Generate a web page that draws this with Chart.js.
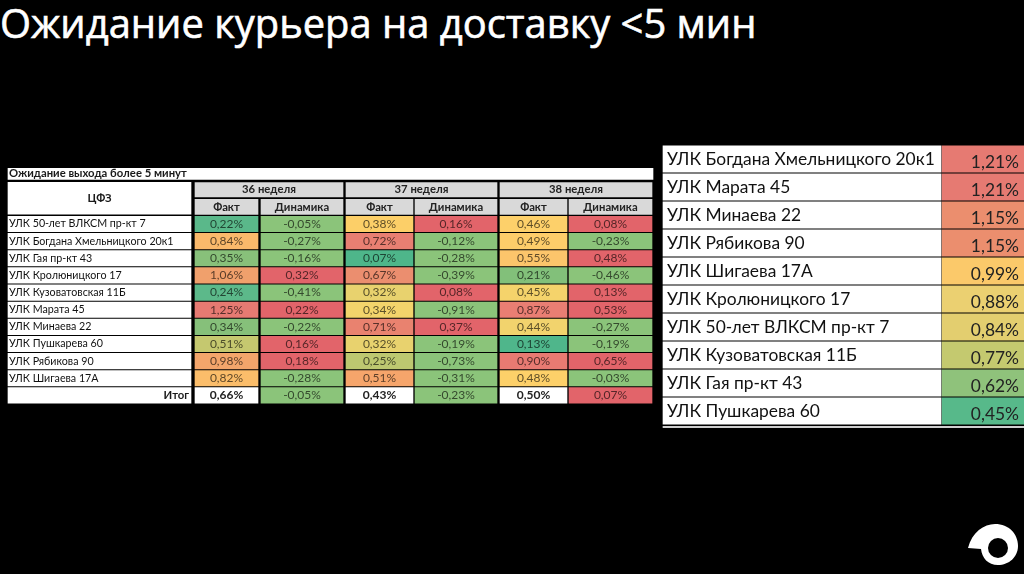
<!DOCTYPE html>
<html lang="ru">
<head>
<meta charset="utf-8">
<title>Ожидание курьера на доставку</title>
<script src="https://cdn.jsdelivr.net/npm/chart.js@4"></script>
<style>
    html, body { margin: 0; width: 1024px; height: 574px; overflow: hidden; background: #000; }
    h1 { position: absolute; left: 0; top: -5px; margin: 0; color: #fff; font: 400 39.9px "Open Sans", sans-serif; -webkit-text-stroke: 0.6px #fff; white-space: nowrap; }
    canvas { position: absolute; display: block; }
    #logo { position: absolute; left: 0; top: 0; }
</style>
</head>
<body>
<h1>Ожидание курьера на доставку &lt;5 мин</h1>
<canvas id="weeks-table" width="660" height="240" style="left:0;top:164px"></canvas>
<canvas id="rank-table" width="364" height="294" style="left:660px;top:145px"></canvas>
<svg id="logo" width="1024" height="574">
    <path fill="#fff" d="M968 548C972 532 984 524 995 524C1009 524 1018 534 1018 546C1018 557 1009 565 998 565C988 565 982 558 981 549Z"/>
    <circle cx="998" cy="548" r="10" fill="#000"/>
</svg>
<script>
// Данные таблицы по неделям (последнее значение - итог)
const tableTitle = 'Ожидание выхода более 5 минут';
const stores = ['УЛК 50-лет ВЛКСМ пр-кт 7', 'УЛК Богдана Хмельницкого 20к1', 'УЛК Гая пр-кт 43', 'УЛК Кролюницкого 17', 'УЛК Кузоватовская 11Б', 'УЛК Марата 45', 'УЛК Минаева 22', 'УЛК Пушкарева 60', 'УЛК Рябикова 90', 'УЛК Шигаева 17А'];
const weeks = ['36 неделя', '37 неделя', '38 неделя'];
const fact36 = [0.22, 0.84, 0.35, 1.06, 0.24, 1.25, 0.34, 0.51, 0.98, 0.82, 0.66];
const dyn36 = [-0.05, -0.27, -0.16, 0.32, -0.41, 0.22, -0.22, 0.16, 0.18, -0.28, -0.05];
const fact37 = [0.38, 0.72, 0.07, 0.67, 0.32, 0.34, 0.71, 0.32, 0.25, 0.51, 0.43];
const dyn37 = [0.16, -0.12, -0.28, -0.39, 0.08, -0.91, 0.37, -0.19, -0.73, -0.31, -0.23];
const fact38 = [0.46, 0.49, 0.55, 0.21, 0.45, 0.87, 0.44, 0.13, 0.90, 0.48, 0.50];
const dyn38 = [0.08, -0.23, 0.48, -0.46, 0.13, 0.53, -0.27, -0.19, 0.65, -0.03, 0.07];

// Рейтинг справа
const rankStores = ['УЛК Богдана Хмельницкого 20к1', 'УЛК Марата 45', 'УЛК Минаева 22', 'УЛК Рябикова 90', 'УЛК Шигаева 17А', 'УЛК Кролюницкого 17', 'УЛК 50-лет ВЛКСМ пр-кт 7', 'УЛК Кузоватовская 11Б', 'УЛК Гая пр-кт 43', 'УЛК Пушкарева 60'];
const rankValues = [1.21, 1.21, 1.15, 1.15, 0.99, 0.88, 0.84, 0.77, 0.62, 0.45];

// Цвета условного форматирования
const fact36Colors = ['#5ab88a', '#fab96b', '#88c07a', '#f0a06c', '#5cb98a', '#e67a72', '#86c07a', '#c5c86f', '#f3a56b', '#fbbd6a', '#ffffff'];
const fact37Colors = ['#fccf68', '#e87f72', '#4eb68a', '#eb8e6f', '#e8d26e', '#f3d46b', '#e9826f', '#e8d26e', '#bdc870', '#f6a56b', '#ffffff'];
const fact38Colors = ['#fdd06a', '#fdcd6a', '#fcc56b', '#82c07a', '#f5d36b', '#e97e73', '#f2d36d', '#4fb68b', '#e87a72', '#fdd069', '#ffffff'];
const rankColors = ['#e67a72', '#e67a72', '#eb8e6e', '#eb8e6e', '#fbc96a', '#ebd071', '#e3ce6f', '#c4c96f', '#8fc27b', '#57b98a'];
const dynUp = '#e2646a';
const dynDown = '#8bc47a';

const FONT = 'Lato, "Noto Sans", sans-serif';

const percent = v => v.toFixed(2).replace('.', ',') + '%';

// Тёмный оттенок цвета ячейки для текста
function darken(hex) {
    if (hex === '#ffffff') return '#222';
    const n = parseInt(hex.slice(1), 16);
    const c = [n >> 16, (n >> 8) & 255, n & 255].map(v => Math.round(v * 0.38));
    return `rgb(${c.join(',')})`;
}

// Подписи ячеек: текст берётся из точки, положение - из самого бара
const cellText = {
    id: 'cellText',
    afterDatasetsDraw(chart) {
        const ctx = chart.ctx;
        chart.data.datasets.forEach((ds, i) => {
            chart.getDatasetMeta(i).data.forEach((bar, j) => {
                const point = ds.data[j];
                if (!point.text) return;
                const left = Math.min(bar.x, bar.base);
                const right = Math.max(bar.x, bar.base);
                const align = point.align || 'center';
                const pad = point.pad || 0;
                ctx.save();
                ctx.font = point.font;
                ctx.fillStyle = point.color;
                ctx.textAlign = align;
                ctx.textBaseline = 'middle';
                const x = align === 'left' ? left + pad : align === 'right' ? right - pad : (left + right) / 2;
                ctx.fillText(point.text, x, bar.y + (point.dy || 0));
                ctx.restore();
            });
        });
    }
};

function tableChart(id, xMin, xMax, yMax, datasets) {
    return new Chart(document.getElementById(id), {
        type: 'bar',
        data: { datasets },
        plugins: [cellText],
        options: {
            indexAxis: 'y',
            responsive: false,
            animation: false,
            events: [],
            layout: { padding: 0 },
            plugins: { legend: { display: false }, tooltip: { enabled: false } },
            datasets: { bar: { grouped: false } },
            scales: {
                x: { type: 'linear', display: false, min: xMin, max: xMax },
                y: { type: 'linear', display: false, offset: false, reverse: true, min: -0.5, max: yMax }
            }
        }
    });
}

// --- Левая таблица ---
const factEdges = [[195, 258], [346, 413], [500, 567]];
const dynEdges = [[261, 343], [415, 497], [569, 652]];
const weekEdges = [[195, 343], [346, 497], [500, 652]];
const labelEdge = [8, 191];
const FIRST_ROW = 3;

const headFont = `bold 11.3px ${FONT}`;
const cellFont = `12px ${FONT}`;

const labelPoints = stores.map((name, i) => ({
    x: labelEdge, y: FIRST_ROW + i, text: name, align: 'left', pad: 1, font: `10.7px ${FONT}`, color: '#111'
}));
labelPoints.push({ x: labelEdge, y: FIRST_ROW + stores.length, text: 'Итог', align: 'right', pad: 2, font: headFont, color: '#1a1a1a' });

const columnPoints = (values, edges, colors) => values.map((v, i) => ({
    x: edges, y: FIRST_ROW + i, text: percent(v), font: i === values.length - 1 && colors ? `bold 12px ${FONT}` : cellFont,
    color: darken(colors ? colors[i] : (v > 0 ? dynUp : dynDown))
}));

const dataCols = [
    [fact36, factEdges[0], fact36Colors], [dyn36, dynEdges[0], null],
    [fact37, factEdges[1], fact37Colors], [dyn37, dynEdges[1], null],
    [fact38, factEdges[2], fact38Colors], [dyn38, dynEdges[2], null]
];

const leftDatasets = [
    { data: [{ x: [8, 653], y: 0.08, text: tableTitle, align: 'left', pad: 1, font: headFont, color: '#1a1a1a', dy: -0.5 }], backgroundColor: '#fff', barThickness: 11 },
    { data: [{ x: labelEdge, y: 1.5, text: 'ЦФЗ', font: headFont, color: '#1a1a1a' }], backgroundColor: '#fff', barThickness: 32 },
    { data: weeks.map((w, i) => ({ x: weekEdges[i], y: 1, text: w, font: headFont, color: '#222' })), backgroundColor: '#d9d9d9', barThickness: 14.5 },
    { data: factEdges.map(e => ({ x: e, y: 2, text: 'Факт', font: headFont, color: '#222' })), backgroundColor: '#d9d9d9', barThickness: 15 },
    { data: dynEdges.map(e => ({ x: e, y: 2, text: 'Динамика', font: headFont, color: '#222' })), backgroundColor: '#d9d9d9', barThickness: 15 },
    { data: labelPoints, backgroundColor: '#fff', barThickness: 15.5 }
];
dataCols.forEach(([values, edges, colors]) => {
    leftDatasets.push({
        data: columnPoints(values, edges, colors),
        backgroundColor: values.map((v, i) => colors ? colors[i] : (v > 0 ? dynUp : dynDown)),
        barThickness: 15.5
    });
});
tableChart('weeks-table', 0, 660, 13.5, leftDatasets);

// --- Правая таблица ---
const rankLabelEdge = [663, 941];
const rankValueEdge = [942, 1024];
const rightDatasets = [
    {
        data: rankStores.map((name, i) => ({ x: rankLabelEdge, y: i, text: name, align: 'left', pad: 4, font: `17.4px ${FONT}`, color: '#111' })),
        backgroundColor: '#fff',
        barThickness: 26.5
    },
    {
        data: rankValues.map((v, i) => ({ x: rankValueEdge, y: i, text: percent(v), align: 'right', pad: 5, font: `17.4px ${FONT}`, color: '#222', dy: 3 })),
        backgroundColor: rankColors,
        barThickness: 26.5
    },
    { data: [{ x: [663, 1024], y: 9.57 }], backgroundColor: '#cfcfcf', barThickness: 1.5 }
];
tableChart('rank-table', 660, 1024, 10, rightDatasets);
</script>
</body>
</html>
